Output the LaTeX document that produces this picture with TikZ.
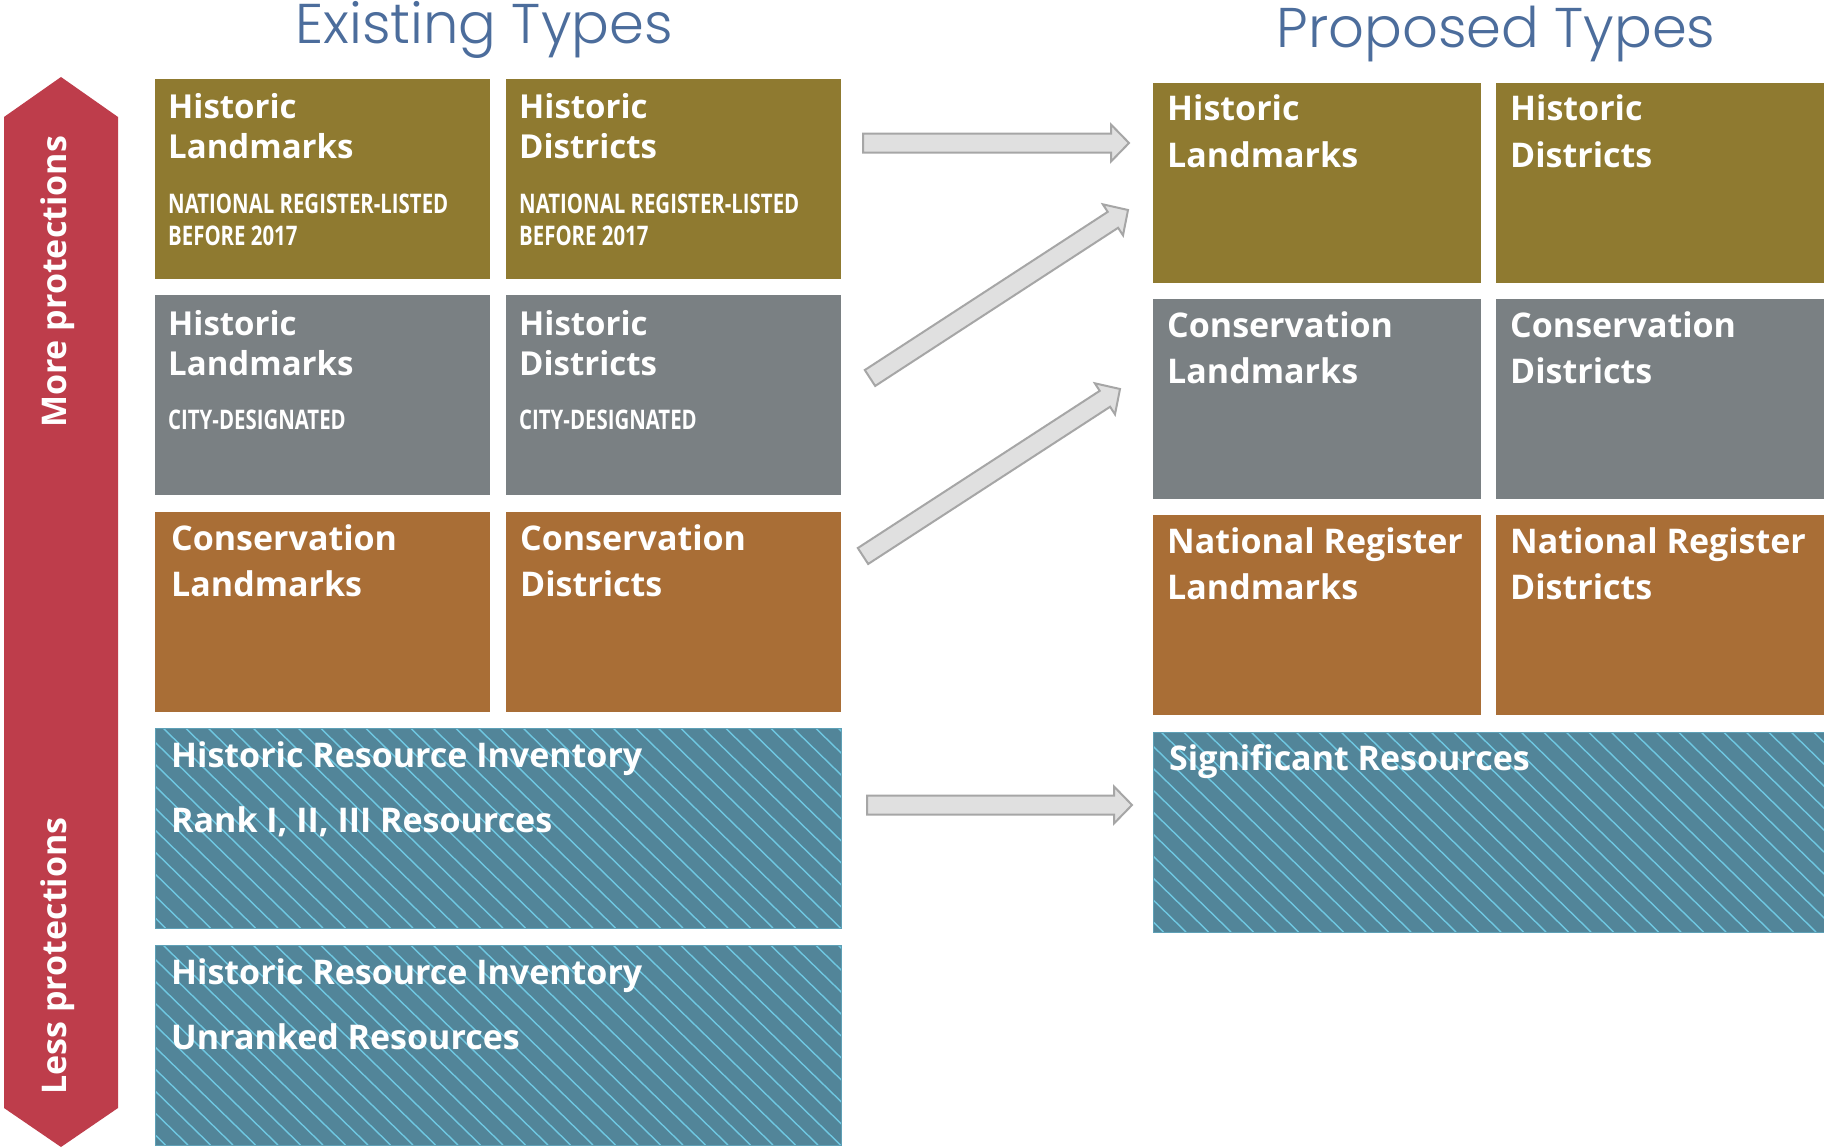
\documentclass[tikz,border=0pt]{standalone}
\usepackage{fontspec}
\usepackage{graphicx}
\setmainfont{Open Sans}
\newfontfamily\titlefont{Poppins Light}
\usetikzlibrary{calc}
\definecolor{cOlive}{HTML}{8F7A30}
\definecolor{cGray}{HTML}{7A8083}
\definecolor{cBrown}{HTML}{A96E36}
\definecolor{cTeal}{HTML}{528599}
\definecolor{cStripe}{HTML}{6FC8E2}
\definecolor{cRed}{HTML}{BE3D4B}
\definecolor{cTitle}{HTML}{4C6D9C}
\definecolor{cArrF}{HTML}{E0E0E0}
\definecolor{cArrD}{HTML}{A6A6A6}
\newcommand\fa{\bfseries\fontsize{33}{36}\selectfont}
\newcommand\fb{\bfseries\fontsize{34}{38}\selectfont}
\newcommand\fr{\bfseries\fontsize{34}{38}\selectfont}
\newcommand\fs{\bfseries\fontsize{27}{30}\selectfont}
\newcommand\cond[1]{\scalebox{0.755}[1]{#1}}
\tikzset{
  tbox/.style={anchor=north west, inner sep=0pt, outer sep=0pt, minimum width=#1, minimum height=200pt},
  lbl/.style={anchor=base west, inner sep=0pt, text=white},
  hatch/.style={draw=cStripe, line width=1.4pt},
  fat/.style={fill=cArrF, draw=cArrD, line width=2pt, line join=miter},
  ttl/.style={text=cTitle, font=\titlefont\fontsize{56}{60}\selectfont, inner sep=0pt}
}
\newcommand\fatarr[2]{%
  \coordinate (hb) at ($(#2)!18pt!(#1)$);
  \draw[fat] ($(#1)!9.5pt!90:(#2)$) -- ($(hb)!9.5pt!-90:(#1)$) -- ($(hb)!18.5pt!-90:(#1)$)
    -- (#2) -- ($(hb)!18.5pt!90:(#1)$) -- ($(hb)!9.5pt!90:(#1)$) -- ($(#1)!9.5pt!-90:(#2)$) -- cycle;
}
\newcommand\hatchbox[2]{%
  \begin{scope}
    \clip (#1.north west) rectangle (#1.south east);
    \foreach \k in {-10,...,#2} \draw[hatch] ($(#1.north west)+(\k*22.5+8,0)$) -- ++(205,200);
  \end{scope}
  \draw[draw=cStripe!40!cTeal, line width=0.8pt] (#1.north west) rectangle (#1.south east);
}
\begin{document}
\begin{tikzpicture}[x=1pt,y=-1pt]
\useasboundingbox[fill=white] (0,0) rectangle (1824,1148);

% titles
\node[ttl, anchor=base] (t1) at (484,44) {Existing Types};
\node[ttl, anchor=base] (t2) at (1496,48) {Proposed Types};

% red arrow
\path[fill=cRed] (4,117) -- (61,77) -- (118,117) -- (118,1108) -- (61,1147) -- (4,1108) -- cycle;
\node[rotate=90, text=white, font=\fr, inner sep=0pt] (more) at (58,282) {More protections};
\node[rotate=90, text=white, font=\fr, inner sep=0pt] (less) at (58,956) {Less protections};

% existing boxes
\node[tbox=335, fill=cOlive] (e11) at (155,79) {};
\node[tbox=335, fill=cOlive] (e12) at (506,79) {};
\node[tbox=335, fill=cGray] (e21) at (155,295) {};
\node[tbox=335, fill=cGray] (e22) at (506,295) {};
\node[tbox=335, fill=cBrown] (e31) at (155,512) {};
\node[tbox=335, fill=cBrown] (e32) at (506,512) {};
\node[tbox=686, fill=cTeal] (e4) at (155,728) {};
\node[tbox=686, fill=cTeal] (e5) at (155,945) {};
\hatchbox{e4}{32}
\hatchbox{e5}{32}

% proposed boxes
\node[tbox=328, fill=cOlive] (p11) at (1153,83) {};
\node[tbox=328, fill=cOlive] (p12) at (1496,83) {};
\node[tbox=328, fill=cGray] (p21) at (1153,299) {};
\node[tbox=328, fill=cGray] (p22) at (1496,299) {};
\node[tbox=328, fill=cBrown] (p31) at (1153,515) {};
\node[tbox=328, fill=cBrown] (p32) at (1496,515) {};
\node[tbox=671, fill=cTeal] (p4) at (1153,732) {};
\hatchbox{p4}{31}

% existing texts
\node[lbl, font=\fa] (e11a) at ($(e11.north west)+(13,39)$) {Historic};
\node[lbl, font=\fa] (e11b) at ($(e11.north west)+(13,79)$) {Landmarks};
\node[lbl, font=\fs] (e11c) at ($(e11.north west)+(13,134)$) {\cond{NATIONAL REGISTER-LISTED}};
\node[lbl, font=\fs] (e11d) at ($(e11.north west)+(13,166)$) {\cond{BEFORE 2017}};
\node[lbl, font=\fa] (e12a) at ($(e12.north west)+(13,39)$) {Historic};
\node[lbl, font=\fa] (e12b) at ($(e12.north west)+(13,79)$) {Districts};
\node[lbl, font=\fs] (e12c) at ($(e12.north west)+(13,134)$) {\cond{NATIONAL REGISTER-LISTED}};
\node[lbl, font=\fs] (e12d) at ($(e12.north west)+(13,166)$) {\cond{BEFORE 2017}};

\node[lbl, font=\fa] (e21a) at ($(e21.north west)+(13,40)$) {Historic};
\node[lbl, font=\fa] (e21b) at ($(e21.north west)+(13,80)$) {Landmarks};
\node[lbl, font=\fs] (e21c) at ($(e21.north west)+(13,134)$) {\cond{CITY-DESIGNATED}};
\node[lbl, font=\fa] (e22a) at ($(e22.north west)+(13,40)$) {Historic};
\node[lbl, font=\fa] (e22b) at ($(e22.north west)+(13,80)$) {Districts};
\node[lbl, font=\fs] (e22c) at ($(e22.north west)+(13,134)$) {\cond{CITY-DESIGNATED}};

\node[lbl, font=\fb] (e31a) at ($(e31.north west)+(16,38)$) {Conservation};
\node[lbl, font=\fb] (e31b) at ($(e31.north west)+(16,84)$) {Landmarks};
\node[lbl, font=\fb] (e32a) at ($(e32.north west)+(14,38)$) {Conservation};
\node[lbl, font=\fb] (e32b) at ($(e32.north west)+(14,84)$) {Districts};

\node[lbl, font=\fb] (e4a) at ($(e4.north west)+(16,39)$) {Historic Resource Inventory};
\node[lbl, font=\fb] (e4b) at ($(e4.north west)+(16,104)$) {Rank I, II, III Resources};
\node[lbl, font=\fb] (e5a) at ($(e5.north west)+(16,39)$) {Historic Resource Inventory};
\node[lbl, font=\fb] (e5b) at ($(e5.north west)+(16,104)$) {Unranked Resources};

% proposed texts
\node[lbl, font=\fb] (p11a) at ($(p11.north west)+(14,38)$) {Historic};
\node[lbl, font=\fb] (p11b) at ($(p11.north west)+(14,84)$) {Landmarks};
\node[lbl, font=\fb] (p12a) at ($(p12.north west)+(14,38)$) {Historic};
\node[lbl, font=\fb] (p12b) at ($(p12.north west)+(14,84)$) {Districts};
\node[lbl, font=\fb] (p21a) at ($(p21.north west)+(14,38)$) {Conservation};
\node[lbl, font=\fb] (p21b) at ($(p21.north west)+(14,84)$) {Landmarks};
\node[lbl, font=\fb] (p22a) at ($(p22.north west)+(14,38)$) {Conservation};
\node[lbl, font=\fb] (p22b) at ($(p22.north west)+(14,84)$) {Districts};
\node[lbl, font=\fb] (p31a) at ($(p31.north west)+(14,38)$) {National Register};
\node[lbl, font=\fb] (p31b) at ($(p31.north west)+(14,84)$) {Landmarks};
\node[lbl, font=\fb] (p32a) at ($(p32.north west)+(14,38)$) {National Register};
\node[lbl, font=\fb] (p32b) at ($(p32.north west)+(14,84)$) {Districts};
\node[lbl, font=\fb] (p4a) at ($(p4.north west)+(16,38)$) {Significant Resources};

% arrows
\coordinate (a1s) at (863,143);  \coordinate (a1e) at (1129,143);
\coordinate (a2s) at (870,378);  \coordinate (a2e) at (1128,210);
\coordinate (a3s) at (863,556);  \coordinate (a3e) at (1120,389);
\coordinate (a4s) at (867,805);  \coordinate (a4e) at (1132,805);
\fatarr{a1s}{a1e}
\fatarr{a2s}{a2e}
\fatarr{a3s}{a3e}
\fatarr{a4s}{a4e}
\end{tikzpicture}
\end{document}
